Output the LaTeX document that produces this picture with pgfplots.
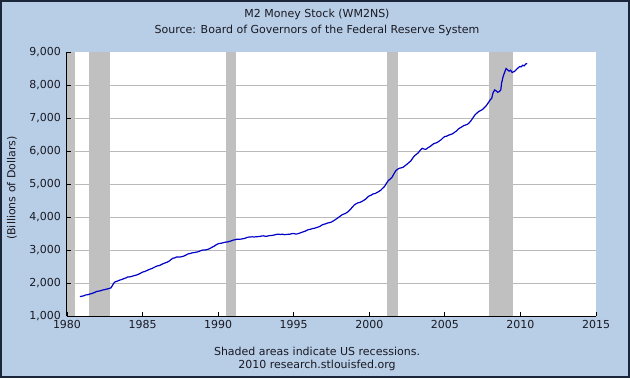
\documentclass[border=0pt]{standalone}
\usepackage{pgfplots}
\pgfplotsset{compat=1.18}
\usepackage{fontspec}
\setmainfont{DejaVu Sans}
\definecolor{bgblue}{RGB}{184,206,230}
\definecolor{framec}{RGB}{28,38,58}
\definecolor{rec}{RGB}{192,192,192}
\definecolor{gridc}{RGB}{185,185,185}
\definecolor{m2}{RGB}{0,0,200}
\definecolor{txt}{RGB}{25,25,35}
\newcommand\ff{\fontsize{11bp}{13bp}\selectfont}
\begin{document}
\begin{tikzpicture}[x=1bp,y=1bp]
\useasboundingbox (-67,-62) rectangle (563,316);
\fill[bgblue] (-67,-62) rectangle (563,316);
\draw[framec,line width=2bp] (-66,-61) rectangle (562,315);
\begin{axis}[
  at={(0,0)}, anchor=south west,
  scale only axis, width=529bp, height=264bp,
  xmin=1980, xmax=2015, ymin=1000, ymax=9000,
  axis x line*=bottom, axis y line*=left,
  axis line style={black, line width=1bp},
  axis on top,
  tick align=inside, major tick length=4bp,
  tick style={black, line width=0.8bp},
  xtick={1980,1985,...,2015}, ytick={1000,2000,...,9000},
  axis background/.style={fill=white},
  /pgf/number format/assume math mode=true,
  xticklabel style={font=\ff, text=txt, /pgf/number format/1000 sep={}, yshift=-1bp},
  yticklabel style={font=\ff, text=txt, /pgf/number format/1000 sep={,}, xshift=-2.5bp},
]
\pgfplotsinvokeforeach{2000,3000,...,8000}{
  \draw[gridc, line width=1bp] (axis cs:1980,#1) -- (axis cs:2015,#1);
}
\addplot[fill=rec, draw=none] coordinates {(1980,1000) (1980,9000) (1980.55,9000) (1980.55,1000)} -- cycle;
\addplot[fill=rec, draw=none] coordinates {(1981.45,1000) (1981.45,9000) (1982.85,9000) (1982.85,1000)} -- cycle;
\addplot[fill=rec, draw=none] coordinates {(1990.5,1000) (1990.5,9000) (1991.2,9000) (1991.2,1000)} -- cycle;
\addplot[fill=rec, draw=none] coordinates {(2001.15,1000) (2001.15,9000) (2001.87,9000) (2001.87,1000)} -- cycle;
\addplot[fill=rec, draw=none] coordinates {(2007.9,1000) (2007.9,9000) (2009.5,9000) (2009.5,1000)} -- cycle;
\addplot[m2, line width=1.2bp] coordinates {
(1980.85,1590) (1981.0,1600) (1981.12,1615) (1981.25,1640) (1981.38,1645) (1981.5,1665) (1981.62,1680) (1981.75,1700)
(1981.88,1725) (1982.0,1750) (1982.12,1755) (1982.25,1770) (1982.38,1790) (1982.5,1800) (1982.62,1815) (1982.75,1830)
(1982.9,1850) (1983.0,1920) (1983.1,2000) (1983.2,2040) (1983.35,2060) (1983.5,2090) (1983.62,2105) (1983.75,2130)
(1983.88,2150) (1984.0,2180) (1984.12,2185) (1984.25,2195) (1984.38,2215) (1984.5,2230) (1984.62,2245) (1984.75,2270)
(1984.88,2300) (1985.0,2330) (1985.12,2345) (1985.25,2370) (1985.38,2400) (1985.5,2420) (1985.62,2440) (1985.75,2470)
(1985.88,2500) (1986.0,2520) (1986.12,2530) (1986.25,2560) (1986.38,2590) (1986.5,2610) (1986.62,2630) (1986.75,2660)
(1986.88,2710) (1987.0,2750) (1987.12,2760) (1987.25,2790) (1987.38,2785) (1987.5,2790) (1987.62,2800) (1987.75,2820)
(1987.88,2850) (1988.0,2880) (1988.12,2890) (1988.25,2910) (1988.38,2920) (1988.5,2930) (1988.62,2940) (1988.75,2960)
(1988.88,2985) (1989.0,3000) (1989.12,3000) (1989.25,3010) (1989.38,3030) (1989.5,3060) (1989.62,3090) (1989.75,3120)
(1989.88,3160) (1990.0,3190) (1990.12,3200) (1990.25,3210) (1990.38,3225) (1990.5,3240) (1990.62,3245) (1990.75,3260)
(1990.88,3280) (1991.0,3300) (1991.12,3310) (1991.25,3330) (1991.38,3325) (1991.5,3330) (1991.62,3340) (1991.75,3350)
(1991.88,3375) (1992.0,3390) (1992.12,3395) (1992.25,3400) (1992.38,3395) (1992.5,3400) (1992.62,3405) (1992.75,3410)
(1992.88,3425) (1993.0,3430) (1993.12,3415) (1993.25,3420) (1993.38,3435) (1993.5,3440) (1993.62,3445) (1993.75,3460)
(1993.88,3475) (1994.0,3480) (1994.12,3470) (1994.25,3480) (1994.38,3465) (1994.5,3470) (1994.62,3475) (1994.75,3480)
(1994.88,3495) (1995.0,3500) (1995.12,3485) (1995.25,3490) (1995.38,3510) (1995.5,3530) (1995.62,3550) (1995.75,3570)
(1995.88,3600) (1996.0,3620) (1996.12,3630) (1996.25,3650) (1996.38,3660) (1996.5,3680) (1996.62,3695) (1996.75,3720)
(1996.88,3760) (1997.0,3780) (1997.12,3795) (1997.25,3820) (1997.38,3830) (1997.5,3850) (1997.62,3880) (1997.75,3920)
(1997.88,3960) (1998.0,4000) (1998.12,4040) (1998.25,4080) (1998.38,4100) (1998.5,4130) (1998.62,4170) (1998.75,4230)
(1998.88,4300) (1999.0,4360) (1999.12,4400) (1999.25,4430) (1999.38,4440) (1999.5,4470) (1999.62,4500) (1999.75,4540)
(1999.88,4600) (2000.0,4640) (2000.12,4660) (2000.25,4700) (2000.38,4710) (2000.5,4740) (2000.62,4770) (2000.75,4810)
(2000.88,4870) (2001.0,4920) (2001.12,5010) (2001.25,5100) (2001.38,5150) (2001.5,5200) (2001.62,5300) (2001.75,5400)
(2001.88,5450) (2002.0,5480) (2002.12,5490) (2002.25,5510) (2002.38,5560) (2002.5,5600) (2002.62,5650) (2002.75,5700)
(2002.88,5790) (2003.0,5860) (2003.12,5900) (2003.25,5950) (2003.38,6030) (2003.5,6080) (2003.62,6060) (2003.75,6050)
(2003.88,6100) (2004.0,6130) (2004.12,6170) (2004.25,6220) (2004.38,6240) (2004.5,6260) (2004.62,6300) (2004.75,6340)
(2004.88,6400) (2005.0,6440) (2005.12,6450) (2005.25,6480) (2005.38,6500) (2005.5,6520) (2005.62,6560) (2005.75,6600)
(2005.88,6660) (2006.0,6700) (2006.12,6730) (2006.25,6770) (2006.38,6790) (2006.5,6810) (2006.62,6860) (2006.75,6930)
(2006.88,7020) (2007.0,7100) (2007.12,7150) (2007.25,7200) (2007.38,7230) (2007.5,7260) (2007.62,7320) (2007.75,7380)
(2007.9,7480) (2008.0,7550) (2008.1,7600) (2008.2,7780) (2008.3,7850) (2008.4,7820) (2008.5,7780) (2008.6,7800)
(2008.7,7850) (2008.75,8050) (2008.85,8250) (2008.95,8380) (2009.05,8500) (2009.15,8460) (2009.25,8420) (2009.35,8450)
(2009.45,8380) (2009.55,8400) (2009.65,8430) (2009.75,8480) (2009.85,8520) (2009.95,8560) (2010.05,8550) (2010.15,8600)
(2010.25,8580) (2010.35,8640) (2010.45,8650)
};
\end{axis}
\node[txt, font=\ff] at (250,301.5) {M2 Money Stock (WM2NS)};
\node[txt, font=\ff] at (250,285.5) {Source: Board of Governors of the Federal Reserve System};
\node[txt, font=\ff, rotate=90] at (-55,128) {(Billions of Dollars)};
\node[txt, font=\ff] at (250,-35.7) {Shaded areas indicate US recessions.};
\node[txt, font=\ff] at (250,-49.7) {2010 research.stlouisfed.org};
\end{tikzpicture}
\end{document}
